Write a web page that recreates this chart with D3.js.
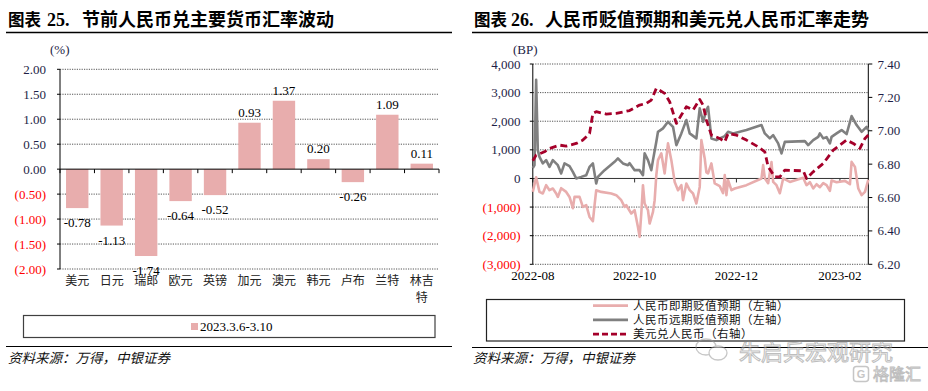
<!DOCTYPE html>
<html><head><meta charset="utf-8">
<script src="https://cdn.jsdelivr.net/npm/d3@7"></script>
<style>body{margin:0;background:#fff;} svg{display:block;}</style>
</head><body>
<svg id="c" width="928" height="391"></svg>
<script>
// ---------- Left chart data ----------
const fxCategories = ["美元","日元","瑞郎","欧元","英镑","加元","澳元","韩元","卢布","兰特","林吉特"];
const fxChanges = [-0.78,-1.13,-1.74,-0.64,-0.52,0.93,1.37,0.20,-0.26,1.09,0.11];
const fxTicks = [2,1.5,1,0.5,0,-0.5,-1,-1.5,-2];
const fxSeriesName = "2023.3.6-3.10";

// ---------- Right chart data ----------
const spotDates = ["2022-08-01","2022-08-03","2022-08-05","2022-08-07","2022-08-09","2022-08-11","2022-08-13","2022-08-15","2022-08-16","2022-08-18","2022-08-21","2022-08-23","2022-08-25","2022-08-26","2022-08-29","2022-08-31","2022-09-02","2022-09-04","2022-09-06","2022-09-07","2022-09-08","2022-09-11","2022-09-17","2022-09-20","2022-09-23","2022-09-25","2022-09-26","2022-09-29","2022-10-01","2022-10-03","2022-10-04","2022-10-05","2022-10-06","2022-10-07","2022-10-09","2022-10-10","2022-10-12","2022-10-13","2022-10-14","2022-10-15","2022-10-17","2022-10-19","2022-10-21","2022-10-23","2022-10-25","2022-10-27","2022-10-29","2022-10-30","2022-11-01","2022-11-03","2022-11-05","2022-11-07","2022-11-09","2022-11-10","2022-11-12","2022-11-13","2022-11-14","2022-11-16","2022-11-17","2022-11-18","2022-11-21","2022-11-23","2022-11-24","2022-11-25","2022-11-26","2022-11-28","2022-11-30","2022-12-07","2022-12-16","2022-12-17","2022-12-18","2022-12-20","2022-12-22","2022-12-23","2022-12-25","2022-12-27","2022-12-29","2023-01-02","2023-01-10","2023-01-12","2023-01-14","2023-01-16","2023-01-18","2023-01-20","2023-01-22","2023-01-24","2023-01-26","2023-01-27","2023-01-30","2023-02-04","2023-02-07","2023-02-08","2023-02-10","2023-02-12","2023-02-14","2023-02-16","2023-02-18"];
const spotValues = [-470,40,-470,-525,-235,-410,-350,-525,-645,-340,-470,-645,-1040,-645,-645,-995,-935,-1345,-1495,-935,-410,-470,-525,-585,-760,-995,-935,-1225,-1110,-1695,-2040,-1225,-235,-875,-1110,-1575,-1170,-760,115,640,875,175,1225,640,-120,-410,-235,-760,-175,-410,-525,-875,-295,1340,700,210,175,525,175,-175,-270,-515,115,-585,-60,-410,-350,-235,0,465,10,-165,570,-120,-235,-515,0,-120,25,-235,-130,-350,-200,-305,-165,-235,-435,-70,-130,-85,-200,580,405,-350,-585,-470,-45];

const fwdDates = ["2022-08-01","2022-08-02","2022-08-03","2022-08-04","2022-08-05","2022-08-07","2022-08-09","2022-08-11","2022-08-13","2022-08-16","2022-08-18","2022-08-20","2022-08-23","2022-08-25","2022-08-27","2022-08-30","2022-09-02","2022-09-04","2022-09-06","2022-09-08","2022-09-09","2022-09-13","2022-09-19","2022-09-21","2022-09-22","2022-09-24","2022-09-27","2022-09-28","2022-10-01","2022-10-04","2022-10-06","2022-10-07","2022-10-09","2022-10-11","2022-10-12","2022-10-14","2022-10-15","2022-10-18","2022-10-21","2022-10-24","2022-10-26","2022-10-29","2022-11-01","2022-11-03","2022-11-07","2022-11-09","2022-11-11","2022-11-13","2022-11-14","2022-11-16","2022-11-19","2022-11-21","2022-11-24","2022-11-26","2022-11-29","2022-12-07","2022-12-16","2022-12-18","2022-12-21","2022-12-23","2022-12-26","2022-12-28","2022-12-30","2023-01-11","2023-01-13","2023-01-16","2023-01-19","2023-01-20","2023-01-22","2023-01-24","2023-01-26","2023-01-27","2023-01-30","2023-02-02","2023-02-05","2023-02-08","2023-02-11","2023-02-14","2023-02-17","2023-02-18"];
const fwdValues = [360,465,3450,990,755,525,640,405,640,465,175,525,430,230,0,55,115,405,525,-175,55,290,580,700,640,525,465,535,290,290,115,875,640,290,640,1280,1630,1750,1980,1805,1165,1575,2040,1575,1400,2450,1980,2390,2505,1400,1340,1400,1480,1630,1575,1690,1865,1575,1400,1515,1225,875,1280,1305,1165,1340,1455,1575,1400,1445,1225,1455,1575,1690,1550,2180,1865,1630,1805,1690];

const usdDates = ["2022-08-01","2022-08-03","2022-08-08","2022-08-11","2022-08-17","2022-08-21","2022-08-27","2022-08-31","2022-09-04","2022-09-06","2022-09-08","2022-09-14","2022-09-20","2022-09-28","2022-10-04","2022-10-08","2022-10-11","2022-10-14","2022-10-19","2022-10-22","2022-10-26","2022-10-29","2022-11-01","2022-11-05","2022-11-09","2022-11-11","2022-11-13","2022-11-16","2022-11-21","2022-11-24","2022-11-26","2022-12-01","2022-12-07","2022-12-14","2022-12-18","2022-12-20","2022-12-24","2022-12-27","2022-12-30","2023-01-10","2023-01-12","2023-01-16","2023-01-22","2023-01-28","2023-02-05","2023-02-09","2023-02-13","2023-02-16","2023-02-18"];
const usdValues = [6.820,6.854,6.874,6.894,6.914,6.908,6.924,6.944,6.984,7.104,7.114,7.100,7.104,7.121,7.154,7.164,7.184,7.254,7.224,7.174,7.044,7.094,7.144,7.124,7.188,7.154,7.064,6.974,6.954,6.934,6.984,6.974,6.944,6.904,6.874,6.784,6.724,6.724,6.764,6.760,6.714,6.754,6.804,6.884,6.944,6.924,6.894,6.954,6.974];

const bpTicks = [4000,3000,2000,1000,0,-1000,-2000,-3000];
const rateTicks = [7.4,7.2,7.0,6.8,6.6,6.4,6.2];
const monthTicks = ["2022-08-01","2022-10-01","2022-12-01","2023-02-01"];
const seriesNames = ["人民币即期贬值预期（左轴）","人民币远期贬值预期（左轴）","美元兑人民币（右轴）"];

// ---------- styles ----------
const SERIF = "'Liberation Serif','Times New Roman',serif";
const CJK = "'Noto Sans CJK SC','Noto Sans',sans-serif";
const NAVY = "#1e1e46";
const RED = "#ff0000";
const PINK = "#E8ADAD";
const GRAY = "#808080";
const DRED = "#A5002A";

const svg = d3.select("#c");

function title(x0, num, numX, rest, restX) {
  const t = svg.append("text").attr("y", 26).attr("font-weight", "bold").attr("fill", "#000");
  t.append("tspan").attr("x", x0).attr("font-family", CJK).attr("font-size", 16.5).text("图表");
  t.append("tspan").attr("x", numX).attr("font-family", SERIF).attr("font-size", 18).text(num);
  t.append("tspan").attr("x", restX).attr("font-family", CJK).attr("font-size", 18).text(rest);
}
title(8, "25.", 47, "节前人民币兑主要货币汇率波动", 82);
title(474, "26.", 511, "人民币贬值预期和美元兑人民币汇率走势", 545);
svg.append("line").attr("x1", 6).attr("x2", 452).attr("y1", 32.5).attr("y2", 32.5).attr("stroke", "#000").attr("stroke-width", 1.3);
svg.append("line").attr("x1", 472).attr("x2", 928).attr("y1", 32.5).attr("y2", 32.5).attr("stroke", "#000").attr("stroke-width", 1.3);

// ================= LEFT CHART =================
const L = {left: 60, right: 439, top: 69.3, bottom: 269};
const xL = d3.scaleBand().domain(fxCategories).range([L.left, L.right]).paddingInner(0.35).paddingOuter(0.175);
const yL = d3.scaleLinear().domain([-2, 2]).range([L.bottom, L.top]);
const gL = svg.append("g");

gL.selectAll("line.grid").data(fxTicks.filter(d => d !== 0)).join("line")
  .attr("x1", L.left).attr("x2", L.right).attr("y1", d => yL(d)).attr("y2", d => yL(d))
  .attr("stroke", "#555").attr("stroke-width", 1).attr("stroke-dasharray", "1.2,1.2");

gL.selectAll("rect.bar").data(fxCategories).join("rect")
  .attr("x", d => xL(d)).attr("width", xL.bandwidth())
  .attr("y", (d, i) => yL(Math.max(0, fxChanges[i])))
  .attr("height", (d, i) => Math.abs(yL(fxChanges[i]) - yL(0)))
  .attr("fill", PINK);

gL.append("line").attr("x1", L.left).attr("x2", L.right).attr("y1", yL(0)).attr("y2", yL(0)).attr("stroke", "#000").attr("stroke-width", 1);
const bounds = d3.range(fxCategories.length + 1).map(i => L.left + i * (L.right - L.left) / fxCategories.length);
gL.selectAll("line.xt").data(bounds).join("line")
  .attr("x1", d => d).attr("x2", d => d).attr("y1", yL(0)).attr("y2", yL(0) + 4)
  .attr("stroke", "#000").attr("stroke-width", 1);

gL.append("line").attr("x1", L.left).attr("x2", L.left).attr("y1", L.top).attr("y2", L.bottom).attr("stroke", "#000").attr("stroke-width", 1);
gL.selectAll("line.yt").data(fxTicks).join("line")
  .attr("x1", L.left - 3).attr("x2", L.left).attr("y1", d => yL(d)).attr("y2", d => yL(d))
  .attr("stroke", "#000");
gL.selectAll("text.yl").data(fxTicks).join("text")
  .attr("x", 46).attr("y", d => yL(d) + 4.5).attr("text-anchor", "end")
  .attr("font-family", SERIF).attr("font-size", 13)
  .attr("fill", d => d < 0 ? RED : NAVY)
  .text(d => d < 0 ? "(" + Math.abs(d).toFixed(2) + ")" : d.toFixed(2));
svg.append("text").attr("x", 50).attr("y", 53.5).attr("font-family", SERIF).attr("font-size", 13).attr("fill", NAVY).text("(%)");

gL.selectAll("text.vl").data(fxCategories).join("text")
  .attr("x", d => xL(d) + xL.bandwidth() / 2)
  .attr("y", (d, i) => fxChanges[i] < 0 ? yL(fxChanges[i]) + 19 : yL(fxChanges[i]) - 6)
  .attr("text-anchor", "middle").attr("font-family", SERIF).attr("font-size", 13).attr("fill", "#000")
  .text((d, i) => fxChanges[i].toFixed(2));

fxCategories.forEach(c => {
  const cx = xL(c) + xL.bandwidth() / 2;
  const lines = c.length > 2 ? [c.slice(0, 2), c.slice(2)] : [c];
  lines.forEach((s, k) => {
    gL.append("text").attr("x", cx).attr("y", 285 + k * 17).attr("text-anchor", "middle")
      .attr("font-family", CJK).attr("font-size", 12).attr("fill", "#222").text(s);
  });
});

svg.append("rect").attr("x", 23.5).attr("y", 315.5).attr("width", 411.5).attr("height", 22).attr("fill", "#fff").attr("stroke", "#404040").attr("stroke-width", 1.2);
svg.append("rect").attr("x", 191).attr("y", 323).attr("width", 7).attr("height", 7).attr("fill", PINK);
svg.append("text").attr("x", 200).attr("y", 331).attr("font-family", SERIF).attr("font-size", 13).attr("fill", "#000").text(fxSeriesName);

svg.append("line").attr("x1", 6).attr("x2", 452).attr("y1", 346.5).attr("y2", 346.5).attr("stroke", "#000").attr("stroke-width", 1.2);
svg.append("line").attr("x1", 472).attr("x2", 928).attr("y1", 347.5).attr("y2", 347.5).attr("stroke", "#000").attr("stroke-width", 1.2);
[8, 473].forEach(x => svg.append("text").attr("x", x).attr("y", 363).attr("font-family", CJK).attr("font-style", "italic")
  .attr("font-size", 13.5).attr("fill", "#111").text("资料来源：万得，中银证券"));

// ================= RIGHT CHART =================
const parse = d3.timeParse("%Y-%m-%d");
const R = {left: 532.8, right: 868.3, top: 64, bottom: 264.3};
const xR = d3.scaleTime().domain([parse("2022-08-01"), parse("2023-02-18")]).range([R.left, R.right]);
const yR1 = d3.scaleLinear().domain([-3000, 4000]).range([R.bottom, R.top]);
const yR2 = d3.scaleLinear().domain([6.2, 7.4]).range([R.bottom, R.top]);
const gR = svg.append("g");

gR.selectAll("line.grid").data(bpTicks.filter(d => d !== 0)).join("line")
  .attr("x1", R.left).attr("x2", R.right).attr("y1", d => yR1(d)).attr("y2", d => yR1(d))
  .attr("stroke", "#555").attr("stroke-width", 1).attr("stroke-dasharray", "1.2,1.2");
gR.append("line").attr("x1", R.left).attr("x2", R.right).attr("y1", yR1(0)).attr("y2", yR1(0)).attr("stroke", "#333").attr("stroke-width", 1);
gR.selectAll("line.xt").data(monthTicks).join("line")
  .attr("x1", d => xR(parse(d))).attr("x2", d => xR(parse(d))).attr("y1", yR1(0)).attr("y2", yR1(0) + 4)
  .attr("stroke", "#333");

gR.append("line").attr("x1", R.left).attr("x2", R.left).attr("y1", R.top).attr("y2", R.bottom).attr("stroke", "#000");
gR.selectAll("line.yt").data(bpTicks).join("line")
  .attr("x1", R.left - 3).attr("x2", R.left).attr("y1", d => yR1(d)).attr("y2", d => yR1(d)).attr("stroke", "#000");
const fmtBP = d3.format(",");
gR.selectAll("text.yl").data(bpTicks).join("text")
  .attr("x", 520.5).attr("y", d => yR1(d) + 4.5).attr("text-anchor", "end")
  .attr("font-family", SERIF).attr("font-size", 13).attr("fill", d => d < 0 ? RED : NAVY)
  .text(d => d < 0 ? "(" + fmtBP(-d) + ")" : fmtBP(d));
svg.append("text").attr("x", 513).attr("y", 54).attr("font-family", SERIF).attr("font-size", 13).attr("fill", NAVY).text("(BP)");

gR.append("line").attr("x1", R.right).attr("x2", R.right).attr("y1", R.top).attr("y2", R.bottom).attr("stroke", "#000");
gR.selectAll("line.rt").data(rateTicks).join("line")
  .attr("x1", R.right).attr("x2", R.right + 4).attr("y1", d => yR2(d)).attr("y2", d => yR2(d)).attr("stroke", "#000");
gR.selectAll("text.rl").data(rateTicks).join("text")
  .attr("x", 877.5).attr("y", d => yR2(d) + 4.5)
  .attr("font-family", SERIF).attr("font-size", 13).attr("fill", NAVY).text(d => d.toFixed(2));

gR.selectAll("text.xl").data(monthTicks).join("text")
  .attr("x", d => xR(parse(d))).attr("y", 279.5).attr("text-anchor", "middle")
  .attr("font-family", SERIF).attr("font-size", 13).attr("fill", "#000")
  .text(d => d.slice(0, 7));

const mk = (dates, vals, y) => dates.map((d, i) => [xR(parse(d)), y(vals[i])]);
const lineGen = d3.line();
gR.append("path").attr("d", lineGen(mk(spotDates, spotValues, yR1))).attr("fill", "none")
  .attr("stroke", PINK).attr("stroke-width", 2.6).attr("stroke-linejoin", "round");
gR.append("path").attr("d", lineGen(mk(fwdDates, fwdValues, yR1))).attr("fill", "none")
  .attr("stroke", GRAY).attr("stroke-width", 2.6).attr("stroke-linejoin", "round");
gR.append("path").attr("d", lineGen(mk(usdDates, usdValues, yR2))).attr("fill", "none")
  .attr("stroke", DRED).attr("stroke-width", 2.8).attr("stroke-dasharray", "7,4").attr("stroke-linejoin", "round");

svg.append("rect").attr("x", 486.5).attr("y", 299.5).attr("width", 418).attr("height", 41.5).attr("fill", "#fff").attr("stroke", "#222").attr("stroke-width", 1.2);
const legStyles = [{c: PINK, dash: null}, {c: GRAY, dash: null}, {c: DRED, dash: "6,3"}];
seriesNames.forEach((n, i) => {
  const y = 305.7 + i * 14.2;
  const l = svg.append("line").attr("x1", 593).attr("x2", 628).attr("y1", y).attr("y2", y)
    .attr("stroke", legStyles[i].c).attr("stroke-width", 2.8);
  if (legStyles[i].dash) l.attr("stroke-dasharray", legStyles[i].dash);
  svg.append("text").attr("x", 633).attr("y", y + 4.2).attr("font-family", CJK).attr("font-size", 11.5)
    .attr("letter-spacing", 0.5).attr("fill", "#111").text(n);
});

const wm = svg.append("g").attr("opacity", 0.55);
wm.append("ellipse").attr("cx", 706).attr("cy", 347).attr("rx", 10).attr("ry", 8).attr("fill", "none").attr("stroke", "#999").attr("stroke-width", 1.3);
wm.append("ellipse").attr("cx", 718).attr("cy", 353).attr("rx", 9).attr("ry", 7).attr("fill", "#fff").attr("stroke", "#999").attr("stroke-width", 1.3);
wm.append("text").attr("x", 739).attr("y", 360).attr("font-family", CJK).attr("font-size", 22)
  .attr("fill", "#fff").attr("stroke", "#8a8a8a").attr("stroke-width", 1).text("朱启兵宏观研究");
wm.append("rect").attr("x", 853.5).attr("y", 366.5).attr("width", 15).attr("height", 15).attr("rx", 3).attr("fill", "none").attr("stroke", "#999").attr("stroke-width", 1.5);
wm.append("text").attr("x", 861).attr("y", 378).attr("text-anchor", "middle").attr("font-family", "Arial,sans-serif").attr("font-size", 11).attr("font-weight", "bold").attr("fill", "#999").text("G");
wm.append("text").attr("x", 873).attr("y", 380).attr("font-family", CJK).attr("font-size", 16)
  .attr("fill", "#fff").attr("stroke", "#8a8a8a").attr("stroke-width", 0.9).text("格隆汇");
</script>
</body></html>
